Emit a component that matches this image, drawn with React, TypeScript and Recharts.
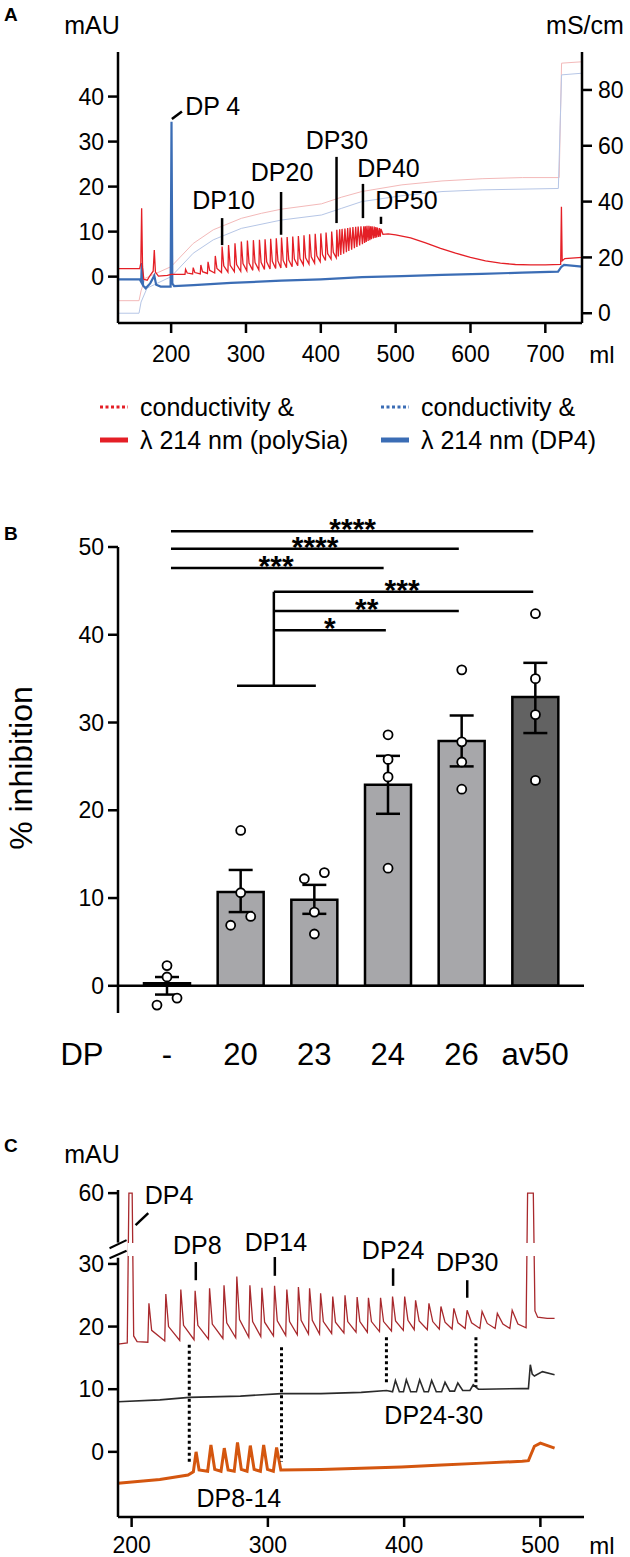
import React from "react";
import {
  ComposedChart,
  LineChart,
  Line,
  Bar,
  Cell,
  ErrorBar,
  XAxis,
  YAxis,
  ReferenceLine,
  ReferenceDot,
} from "recharts";

const FONT = '"Liberation Sans", Arial, Helvetica, sans-serif';

type Pt = { x: number; y: number };
const toPts = (rows: number[][]): Pt[] => rows.map(([x, y]) => ({ x, y }));

// ---------------- panel A data ----------------
const aTicksMl = [200, 300, 400, 500, 600, 700];
const aTicksMau = [0, 10, 20, 30, 40];
const aTicksMs = [0, 20, 40, 60, 80];

// lambda 214 nm, polySia run  [ml, mAU]
const aPolySia = [
  [129, 1.8], [158, 1.8], [159.5, 3], [160.6, 15.2], [161.8, 2], [163.5, -0.6], [168, -0.8],
  [172, 0.3], [176, 1.2], [177.5, 5.9], [179, 1.0], [183, 0.1], [195, 0.3], [200, 0.5], [210, 0.5],
  [218.5, 0.5], [219.3, 1.6], [221.5, 0.8], [228.7, 0.6], [229.5, 2.0], [231.7, 0.9],
  [238.9, 0.6], [239.7, 2.6], [241.9, 1.1], [248.5, 0.7], [249.3, 3.3], [251.5, 1.4],
  [258.2, 0.8], [259.0, 4.6], [261.2, 1.8], [267.3, 0.9], [268.1, 6.7], [270.3, 2.4],
  [275.9, 1.0], [276.7, 7.0], [278.9, 2.5], [284.5, 1.1], [285.3, 7.4], [287.5, 2.7],
  [293.0, 1.2], [293.8, 7.8], [296.0, 2.9], [301.1, 1.3], [301.9, 8.0], [304.1, 3.0],
  [309.1, 1.4], [309.9, 8.1], [312.1, 3.1], [317.2, 1.5], [318.0, 8.2], [320.2, 3.2],
  [324.7, 1.6], [325.5, 8.3], [327.7, 3.3], [332.2, 1.7], [333.0, 8.4], [335.2, 3.4],
  [339.7, 1.8], [340.5, 8.5], [342.7, 3.5], [346.7, 1.9], [347.5, 8.7], [349.7, 3.6],
  [354.2, 2.0], [355.0, 8.8], [357.2, 3.7], [361.7, 2.2], [362.5, 8.9], [364.7, 3.9],
  [369.2, 2.4], [370.0, 9.0], [372.2, 4.0], [376.7, 2.6], [377.5, 9.2], [379.7, 4.2],
  [384.2, 2.8], [385.0, 9.4], [387.2, 4.4], [391.7, 3.0], [392.5, 9.5], [394.7, 4.6],
  [399.2, 3.3], [400.0, 9.6], [402.2, 4.9], [406.2, 3.6], [407.0, 9.8], [409.2, 5.1],
  [413.7, 3.9], [414.5, 10.0], [416.7, 5.4], [420.6, 4.2], [421.4, 10.4],
  [423.4, 4.5], [425.2, 10.5], [426.7, 4.8], [428.4, 10.6], [430.5, 5.1], [432.2, 10.7],
  [434.2, 5.4], [435.9, 10.8], [437.4, 5.7], [439.1, 10.9], [441.2, 6.0], [442.9, 11.0],
  [444.9, 6.3], [446.6, 11.1], [448.2, 6.6], [449.9, 11.1], [451.9, 6.9], [453.6, 11.2],
  [455.6, 7.2], [457.4, 11.2], [458.5, 7.5], [459.5, 11.2], [460.7, 7.7], [461.7, 11.3],
  [463.2, 7.9], [464.3, 11.3], [465.5, 8.1], [466.5, 11.2], [467.6, 8.3], [468.6, 11.2],
  [470.2, 8.5], [471.3, 11.1], [472.5, 8.6], [473.5, 11.0], [474.6, 8.7], [475.6, 10.9],
  [477.1, 8.8], [478.3, 10.8], [479.4, 8.9], [480.4, 10.6], [483, 9.4], [490, 9.5],
  [500, 9.3], [520, 8.6], [540, 7.5], [560, 6.3], [580, 5.2], [600, 4.3], [620, 3.5],
  [640, 3.0], [660, 2.7], [680, 2.6], [700, 2.6], [720.5, 2.7], [721.5, 15.5], [722.5, 3.5],
  [726, 4.0], [749, 4.3],
];

// lambda 214 nm, DP4 run
const aDp4 = [
  [129, -0.6], [158, -0.6], [160, -1.2], [160.8, 3], [162.5, -2.0], [166, -2.6], [172, -1.5],
  [177.5, 0.2], [180, -1.8], [186, -2.2], [199.3, -2.2], [200.5, 34.4], [201.6, -1.5],
  [204, -2.1], [230, -1.9], [280, -1.4], [347, -0.9], [400, -0.6], [455, -0.1], [508, 0.1],
  [562, 0.4], [615, 0.6], [669, 0.9], [717, 1.1], [721.5, 2.2], [725, 2.6], [749, 2.2],
];

// conductivity (mS/cm)
const aCondPolySia = [
  [129, 4.5], [157.1, 4.5], [159.8, 8], [165.1, 12.5], [200, 16.7], [229.5, 25.0],
  [256.3, 29.9], [293.8, 34.0], [320.6, 35.8], [347.5, 37.3], [401, 39.2], [427.9, 41.6],
  [454.7, 43.6], [508.3, 46.0], [561.9, 47.4], [615.5, 48.2], [669.2, 48.6], [718.5, 48.6],
  [721.7, 89.6], [749, 90.1],
];
const aCondDp4 = [
  [129, 0], [157.1, 0], [159.8, 4], [167.8, 9.0], [200, 13.1], [229.5, 21.5], [256.3, 26.3],
  [293.8, 30.4], [347.5, 33.4], [401, 35.2], [427.9, 37.6], [454.7, 40.0], [508.3, 42.1],
  [561.9, 43.6], [615.5, 44.2], [717.4, 44.7], [721.7, 85.4], [749, 86.0],
];

const aLabels = [
  { text: "DP 4", x: 218.7, y: 37.9, anchor: "start" },
  { text: "DP10", x: 270.1, y: 17.0, anchor: "middle" },
  { text: "DP20", x: 348.2, y: 23.3, anchor: "middle" },
  { text: "DP30", x: 421.5, y: 30.4, anchor: "middle" },
  { text: "DP40", x: 490.4, y: 24.2, anchor: "middle" },
  { text: "DP50", x: 514.4, y: 17.0, anchor: "middle" },
];
const aMarks = [
  [201, 35, 214.4, 36.7],
  [268.1, 13.0, 268.1, 7.0],
  [346.9, 18.8, 346.9, 9.3],
  [421.0, 26.6, 421.0, 11.9],
  [456.3, 20.6, 456.3, 13.0],
  [480.4, 13.3, 480.4, 11.7],
];

// ---------------- panel B data ----------------
const bGroups = ["-", "20", "23", "24", "26", "av50"];
const bMeans = [0.3, 10.7, 9.8, 22.9, 27.9, 32.9];
const bErrLow = [1.3, 2.3, 1.6, 3.3, 2.9, 4.1];
const bErrHigh = [0.7, 2.5, 1.7, 3.3, 2.9, 3.9];
const bFills = ["#a7a7aa", "#a7a7aa", "#a7a7aa", "#a7a7aa", "#a7a7aa", "#626262"];
const bPoints = [
  [2.3, 1.0, -1.4, -2.2],
  [17.7, 10.6, 6.9, 7.9],
  [12.2, 12.9, 8.4, 5.9],
  [28.6, 25.8, 23.8, 13.4],
  [36.0, 27.8, 25.5, 22.4],
  [42.4, 35.0, 30.9, 23.4],
];
// side of the jittered dot: -1 left, 0 centre, 1 right
const bJitter = [
  [0, 0, 1, -1],
  [0, 0, -1, 1],
  [-1, 1, 0, 0],
  [0, 0, 0, 0],
  [0, 0, 0, 0],
  [0, 0, 0, 0],
];
const bTicks = [0, 10, 20, 30, 40, 50];
// significance brackets, x in group index units
const bBrackets = [
  { from: 0.054, to: 4.97, y: 51.8, stars: "****", tx: 2.52, ty: 50.96 },
  { from: 0.054, to: 3.96, y: 49.8, stars: "****", tx: 2.01, ty: 48.83 },
  { from: 0.054, to: 2.94, y: 47.6, stars: "***", tx: 1.48, ty: 46.74 },
  { from: 1.45, to: 4.97, y: 44.9, stars: "***", tx: 3.19, ty: 44.0 },
  { from: 1.45, to: 3.96, y: 42.7, stars: "**", tx: 2.71, ty: 41.8 },
  { from: 1.45, to: 2.97, y: 40.5, stars: "*", tx: 2.21, ty: 39.65 },
];

const bData = bGroups.map((name, i) => ({
  name,
  mean: bMeans[i],
  err: [bErrLow[i], bErrHigh[i]],
}));
const bPointData = bPoints.flatMap((vals, g) =>
  vals.map((y, k) => ({ x: g + bJitter[g][k] * 0.136, y }))
);

// ---------------- panel C data ----------------
const cTicksMl = [200, 300, 400, 500];
// values above the axis break are drawn in compressed units: 41.3 stands for 60
const cTicks = [0, 10, 20, 30, 41.3];
const cTickLabels = ["0", "10", "20", "30", "60"];

const cPolySia = [
  [190, 17.2], [196.8, 17.4], [198.0, 41.3], [200.4, 41.3], [201.5, 18.5], [204, 17.6],
  [211.9, 17.5], [212.7, 23.7], [214.7, 19.4], [224.3, 17.7], [225.1, 25.2], [227.1, 20.0],
  [235.3, 17.8], [236.1, 25.9], [238.1, 20.2], [245.8, 17.9], [246.6, 25.7], [248.6, 20.2],
  [256.4, 18.0], [257.2, 26.1], [259.2, 20.4], [267.0, 18.1], [267.8, 26.6], [269.8, 20.6],
  [276.4, 18.2], [277.2, 28.0], [279.2, 21.1], [286.0, 18.3], [286.8, 26.6], [288.8, 20.8],
  [294.8, 18.4], [295.6, 26.2], [297.6, 20.7], [304.1, 18.5], [304.9, 26.5], [306.9, 20.9],
  [313.1, 18.6], [313.9, 25.9], [315.9, 20.8], [321.6, 18.7], [322.4, 26.3], [324.4, 21.0],
  [329.8, 18.8], [330.6, 26.1], [332.6, 21.0], [337.9, 18.8], [338.7, 25.3], [340.7, 20.8],
  [346.8, 18.9], [347.6, 24.8], [349.6, 20.7], [355.8, 19.0], [356.6, 25.0], [358.6, 20.8],
  [364.7, 19.1], [365.5, 24.7], [367.5, 20.8], [373.0, 19.1], [373.8, 24.6], [376.0, 20.8],
  [381.9, 19.2], [382.7, 24.6], [384.9, 20.8], [390.7, 19.3], [391.5, 24.8], [393.7, 20.9],
  [399.4, 19.4], [400.4, 24.8], [402.8, 21.0], [407.4, 19.5], [408.4, 24.2], [411, 20.9],
  [417, 19.5], [418.2, 23.7], [421, 20.8], [425.8, 19.6], [427.0, 23.2], [430, 20.7],
  [435.2, 19.6], [436.5, 22.9], [439.5, 20.6], [444.8, 19.7], [446.2, 22.6], [449.5, 20.6],
  [455.6, 19.7], [457.2, 22.4], [461, 20.5], [466.8, 19.7], [468.4, 22.1], [472.5, 20.4],
  [477.6, 19.7], [479.3, 22.6], [483.5, 20.4], [489.5, 19.8], [490.6, 41.3], [494.8, 41.3],
  [496, 22.5], [498, 21.5], [505, 21.3], [510.4, 21.3],
];
const cDp24to30 = [
  [190, 8.0], [220.7, 8.3], [242.3, 8.7], [279.8, 8.9], [310, 9.3], [338.9, 9.3], [368.5, 9.5],
  [387.1, 9.8], [391.5, 9.6], [393.6, 11.4], [396.5, 9.6], [399.5, 9.6], [401.6, 11.5],
  [404.8, 9.6], [409, 9.6], [411.4, 11.5], [414.7, 9.6], [417.8, 9.6], [420.2, 11.4],
  [423.6, 9.6], [427.5, 9.6], [430, 11.1], [433.5, 9.7], [437, 9.7], [439.4, 11.0],
  [443, 9.8], [448.3, 9.8], [450.7, 10.7], [454.5, 10.0], [457.2, 10.0], [486.7, 10.1],
  [491.2, 10.1], [492.6, 13.9], [494, 12.4], [495.6, 12.1], [501.5, 12.8], [510.4, 12.3],
];
const cDp8to14 = [
  [190, -5.0], [220.7, -4.4], [241.4, -3.7], [245.3, -3.2], [247.3, 0.0], [249.5, -2.9],
  [255.8, -3.1], [258.2, 1.1], [261, -2.8], [265.6, -3.1], [268, 0.6], [270.8, -2.9],
  [275.3, -3.1], [277.7, 1.5], [280.5, -2.8], [284.7, -3.1], [287.1, 1.0], [289.9, -2.8],
  [294.5, -3.1], [296.9, 1.1], [299.7, -2.8], [304, -3.1], [306.4, 0.7], [309.5, -2.9],
  [338.9, -2.8], [368.5, -2.6], [398, -2.4], [427.6, -2.1], [457.2, -1.8], [486.7, -1.5],
  [491.2, -1.4], [495.6, 0.9], [500, 1.4], [510.4, 0.6],
];

const cLabels = [
  { text: "DP4", x: 209.6, y: 41.0, anchor: "start" },
  { text: "DP8", x: 248.2, y: 33.0, anchor: "middle" },
  { text: "DP14", x: 305.9, y: 33.5, anchor: "middle" },
  { text: "DP24", x: 391.9, y: 32.2, anchor: "middle" },
  { text: "DP30", x: 446.3, y: 30.3, anchor: "middle" },
  { text: "DP24-30", x: 421.7, y: 5.9, anchor: "middle" },
  { text: "DP8-14", x: 278.7, y: -7.3, anchor: "middle" },
];
const cMarks = [
  [202.9, 36.2, 212.2, 38.1],
  [247.1, 30.3, 247.1, 27.4],
  [305.1, 31.1, 305.1, 28.1],
  [391.9, 29.3, 391.9, 26.5],
  [446.3, 27.4, 446.3, 24.6],
];
const cDotted = [
  [242.3, 17.1, -1.6],
  [310, 16.7, -1.6],
  [387, 18.3, 10.7],
  [452.7, 18.3, 10.4],
];

// ---------------- helpers ----------------
const RED = "#e41f26";
const BLUE = "#3b6db5";
const axisStyle = { stroke: "#000", strokeWidth: 2.5 };

const txt =
  (text: string, size: number, anchor = "middle", baseline = "central", weight = "normal") =>
  (p: any) =>
    (
      <text
        x={p.cx}
        y={p.cy}
        textAnchor={anchor}
        dominantBaseline={baseline}
        fontSize={size}
        fontWeight={weight}
        fontFamily={FONT}
        fill="#000"
      >
        {text}
      </text>
    );

const PanelA = () => (
  <LineChart width={630} height={370} margin={{ top: 52, right: 0, bottom: 0, left: 0 }}>
    <XAxis
      dataKey="x"
      type="number"
      domain={[129, 749]}
      ticks={aTicksMl}
      interval={0}
      allowDataOverflow
      height={47}
      tickSize={10}
      tickMargin={13}
      axisLine={axisStyle}
      tickLine={axisStyle}
      tick={{ fill: "#000", fontSize: 23 }}
    />
    <YAxis
      yAxisId="l"
      domain={[-10.3, 49.9]}
      ticks={aTicksMau}
      interval={0}
      allowDataOverflow
      width={118}
      tickSize={10}
      tickMargin={4}
      axisLine={axisStyle}
      tickLine={axisStyle}
      tick={{ fill: "#000", fontSize: 23 }}
    />
    <YAxis
      yAxisId="r"
      orientation="right"
      domain={[-3.5, 93.6]}
      ticks={aTicksMs}
      interval={0}
      allowDataOverflow
      width={48}
      tickSize={10}
      tickMargin={6}
      axisLine={axisStyle}
      tickLine={axisStyle}
      tick={{ fill: "#000", fontSize: 23 }}
    />
    <Line yAxisId="r" data={toPts(aCondPolySia)} dataKey="y" stroke="#f3b9b9" strokeWidth={1} dot={false} isAnimationActive={false} />
    <Line yAxisId="r" data={toPts(aCondDp4)} dataKey="y" stroke="#b6c6e6" strokeWidth={1} dot={false} isAnimationActive={false} />
    <Line yAxisId="l" data={toPts(aDp4)} dataKey="y" stroke={BLUE} strokeWidth={2.2} dot={false} isAnimationActive={false} />
    <Line yAxisId="l" data={toPts(aPolySia)} dataKey="y" stroke={RED} strokeWidth={1.3} dot={false} isAnimationActive={false} />
    {aMarks.map((m, i) => (
      <ReferenceLine
        key={"am" + i}
        yAxisId="l"
        segment={[{ x: m[0], y: m[1] }, { x: m[2], y: m[3] }]}
        stroke="#000"
        strokeWidth={2.5}
        ifOverflow="visible"
      />
    ))}
    {aLabels.map((l) => (
      <ReferenceDot key={l.text} yAxisId="l" x={l.x} y={l.y} r={0} ifOverflow="visible" shape={txt(l.text, 25, l.anchor)} />
    ))}
  </LineChart>
);

const PanelB = () => (
  <ComposedChart width={630} height={610} data={bData} margin={{ top: 77, right: 46, bottom: 0, left: 0 }}>
    <XAxis
      dataKey="name"
      padding={{ left: 12, right: 12 }}
      height={67}
      axisLine={false}
      tickLine={false}
      tickSize={0}
      tickMargin={30}
      interval={0}
      tick={{ fill: "#000", fontSize: 31 }}
    />
    <XAxis xAxisId="num" dataKey="x" type="number" domain={[-0.665, 5.659]} allowDataOverflow hide />
    <YAxis
      domain={[-3.1, 50]}
      ticks={bTicks}
      interval={0}
      allowDataOverflow
      width={118}
      tickSize={10}
      tickMargin={4}
      axisLine={axisStyle}
      tickLine={axisStyle}
      tick={{ fill: "#000", fontSize: 23 }}
    />
    <ReferenceLine y={0} stroke="#000" strokeWidth={2.5} />
    <Bar dataKey="mean" barSize={46} stroke="#000" strokeWidth={2.5} isAnimationActive={false}>
      {bData.map((d, i) => (
        <Cell key={d.name} fill={bFills[i]} />
      ))}
      <ErrorBar dataKey="err" width={12} stroke="#000" strokeWidth={2.5} isAnimationActive={false} />
    </Bar>
    <Line
      xAxisId="num"
      data={bPointData}
      dataKey="y"
      stroke="none"
      dot={{ r: 4.5, fill: "#fff", stroke: "#000", strokeWidth: 1.8 }}
      isAnimationActive={false}
    />
    {bBrackets.map((b, i) => (
      <ReferenceLine
        key={"bl" + i}
        xAxisId="num"
        segment={[{ x: b.from, y: b.y }, { x: b.to, y: b.y }]}
        stroke="#000"
        strokeWidth={2.5}
        ifOverflow="visible"
      />
    ))}
    <ReferenceLine xAxisId="num" segment={[{ x: 1.45, y: 34.2 }, { x: 1.45, y: 44.9 }]} stroke="#000" strokeWidth={2.5} ifOverflow="visible" />
    <ReferenceLine xAxisId="num" segment={[{ x: 0.95, y: 34.2 }, { x: 2.02, y: 34.2 }]} stroke="#000" strokeWidth={2.5} ifOverflow="visible" />
    {bBrackets.map((b, i) => (
      <ReferenceDot
        key={"bs" + i}
        xAxisId="num"
        x={b.tx}
        y={b.ty}
        r={0}
        ifOverflow="visible"
        shape={txt(b.stars, 30, "middle", "alphabetic", "bold")}
      />
    ))}
  </ComposedChart>
);

const PanelC = () => (
  <LineChart width={630} height={457} margin={{ top: 90, right: 46, bottom: 0, left: 0 }}>
    <XAxis
      dataKey="x"
      type="number"
      domain={[190, 532]}
      ticks={cTicksMl}
      interval={0}
      allowDataOverflow
      height={40}
      tickSize={10}
      tickMargin={10}
      axisLine={axisStyle}
      tickLine={axisStyle}
      tick={{ fill: "#000", fontSize: 23 }}
    />
    <YAxis
      domain={[-10.4, 41.8]}
      ticks={cTicks}
      interval={0}
      allowDataOverflow
      width={118}
      tickSize={10}
      tickMargin={4}
      axisLine={false}
      tickLine={axisStyle}
      tickFormatter={(v: number) => cTickLabels[cTicks.indexOf(v)]}
      tick={{ fill: "#000", fontSize: 23 }}
    />
    <Line data={toPts(cDp8to14)} dataKey="y" stroke="#d4560f" strokeWidth={3} dot={false} isAnimationActive={false} />
    <Line data={toPts(cDp24to30)} dataKey="y" stroke="#2b2b2b" strokeWidth={1.6} dot={false} isAnimationActive={false} />
    <Line data={toPts(cPolySia)} dataKey="y" stroke="#a8292d" strokeWidth={1.3} dot={false} isAnimationActive={false} />
    {/* broken y axis */}
    <ReferenceLine segment={[{ x: 190, y: -10.4 }, { x: 190, y: 31.0 }]} stroke="#000" strokeWidth={2.5} ifOverflow="visible" />
    <ReferenceLine segment={[{ x: 190, y: 33.4 }, { x: 190, y: 41.8 }]} stroke="#000" strokeWidth={2.5} ifOverflow="visible" />
    <ReferenceLine segment={[{ x: 183.8, y: 32.5 }, { x: 196.3, y: 33.8 }]} stroke="#000" strokeWidth={2} ifOverflow="visible" />
    <ReferenceLine segment={[{ x: 183.8, y: 30.9 }, { x: 196.3, y: 32.1 }]} stroke="#000" strokeWidth={2} ifOverflow="visible" />
    {cDotted.map((d, i) => (
      <ReferenceLine
        key={"cd" + i}
        segment={[{ x: d[0], y: d[1] }, { x: d[0], y: d[2] }]}
        stroke="#000"
        strokeWidth={3}
        strokeDasharray="3 3"
        ifOverflow="visible"
      />
    ))}
    {cMarks.map((m, i) => (
      <ReferenceLine
        key={"cm" + i}
        segment={[{ x: m[0], y: m[1] }, { x: m[2], y: m[3] }]}
        stroke="#000"
        strokeWidth={2.5}
        ifOverflow="visible"
      />
    ))}
    {cLabels.map((l) => (
      <ReferenceDot key={l.text} x={l.x} y={l.y} r={0} ifOverflow="visible" shape={txt(l.text, 25, l.anchor)} />
    ))}
  </LineChart>
);

const legendItems = [
  { x: 100, y: 407, color: RED, dotted: true, text: "conductivity &" },
  { x: 100, y: 440, color: RED, dotted: false, text: "λ 214 nm (polySia)" },
  { x: 381, y: 407, color: BLUE, dotted: true, text: "conductivity &" },
  { x: 381, y: 440, color: BLUE, dotted: false, text: "λ 214 nm (DP4)" },
];

const Overlay = () => (
  <svg
    width={630}
    height={1557}
    style={{ position: "absolute", left: 0, top: 0, pointerEvents: "none" }}
    fontFamily={FONT}
  >
    <text x={4} y={14} fontSize={19} fontWeight="bold" dominantBaseline="central">A</text>
    <text x={4} y={533} fontSize={19} fontWeight="bold" dominantBaseline="central">B</text>
    <text x={4} y={1145} fontSize={19} fontWeight="bold" dominantBaseline="central">C</text>
    <text x={92} y={25} fontSize={25} textAnchor="middle" dominantBaseline="central">mAU</text>
    <text x={585} y={25} fontSize={25} textAnchor="middle" dominantBaseline="central">mS/cm</text>
    <text x={602} y={354} fontSize={24} textAnchor="middle" dominantBaseline="central">ml</text>
    {legendItems.map((it) => (
      <g key={it.text + it.x}>
        <line
          x1={it.x}
          x2={it.x + 28}
          y1={it.y}
          y2={it.y}
          stroke={it.color}
          strokeWidth={it.dotted ? 3 : 5}
          strokeDasharray={it.dotted ? "3 2.5" : undefined}
        />
        <text x={it.x + 40} y={it.y} fontSize={25} dominantBaseline="central">{it.text}</text>
      </g>
    ))}
    <text transform="translate(21,768) rotate(-90)" fontSize={32} textAnchor="middle" dominantBaseline="central">
      % inhibition
    </text>
    <text x={82} y={1054} fontSize={31} textAnchor="middle" dominantBaseline="central">DP</text>
    <text x={92} y={1154} fontSize={25} textAnchor="middle" dominantBaseline="central">mAU</text>
    <text x={602} y={1545} fontSize={24} textAnchor="middle" dominantBaseline="central">ml</text>
    {/* gap of the axis break through the two off-scale peaks in C */}
    <rect x={127.5} y={1243} width={11} height={13} fill="#fff" />
    <rect x={524} y={1243} width={16} height={13} fill="#fff" />
  </svg>
);

export default function App() {
  return (
    <div
      style={{
        position: "absolute",
        left: 0,
        top: 0,
        width: 630,
        height: 1557,
        background: "#fff",
        fontFamily: FONT,
      }}
    >
      <div style={{ position: "absolute", left: 0, top: 0 }}>
        <PanelA />
      </div>
      <div style={{ position: "absolute", left: 0, top: 470 }}>
        <PanelB />
      </div>
      <div style={{ position: "absolute", left: 0, top: 1100 }}>
        <PanelC />
      </div>
      <Overlay />
    </div>
  );
}
